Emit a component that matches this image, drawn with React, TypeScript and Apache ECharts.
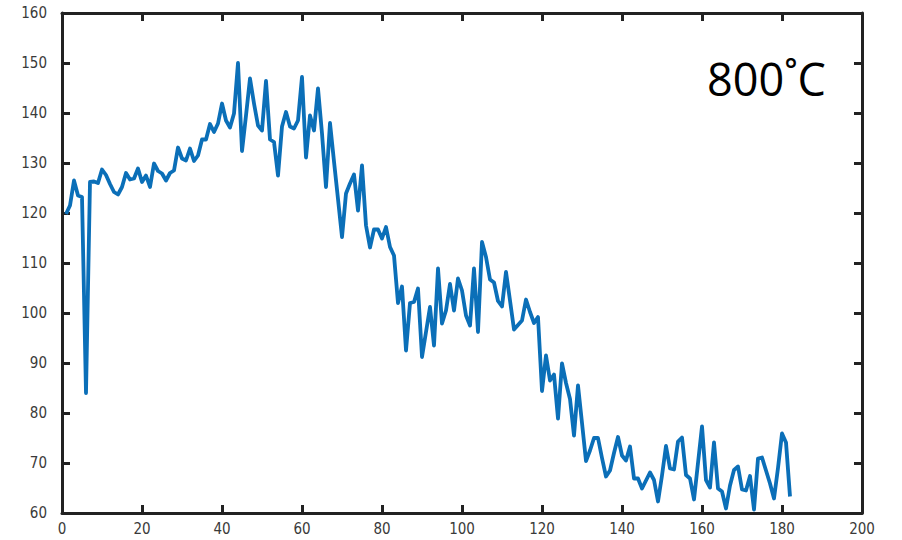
import React, { useEffect, useRef } from "react";
import * as echarts from "echarts";

const xTicks = [0, 20, 40, 60, 80, 100, 120, 140, 160, 180, 200];
const yTicks = [60, 70, 80, 90, 100, 110, 120, 130, 140, 150, 160];

// sample number (1..182) is the position in this list
const values = [
  119.8, 121.5, 126.5, 123.5, 123.2, 84, 126.2, 126.3, 126, 128.7,
  127.6, 125.8, 124.2, 123.7, 125.2, 128, 126.7, 126.9, 128.9, 126.2,
  127.5, 125.2, 129.9, 128.4, 127.9, 126.5, 128, 128.5, 133.1, 130.9,
  130.5, 132.9, 130.4, 131.5, 134.7, 134.7, 137.8, 136.2, 137.9, 141.9,
  138.5, 137.1, 139.9, 150, 132.4, 139.5, 146.9, 141.9, 137.5, 136.5,
  146.4, 134.7, 134.2, 127.5, 137.3, 140.2, 137.3, 136.9, 138.5, 147.2,
  131.1, 139.5, 136.5, 144.9, 135.9, 125.2, 138, 130.3, 122.8, 115.2,
  123.9, 125.9, 127.7, 120.5, 129.5, 117.5, 113.1, 116.7, 116.7, 114.9,
  117.2, 113.2, 111.5, 102, 105.3, 92.5, 102, 102.2, 104.9, 91.2,
  96.2, 101.2, 93.5, 108.9, 97.9, 100.5, 105.8, 100.5, 106.9, 104.5,
  99.5, 97.5, 108.9, 96.2, 114.2, 111.2, 106.7, 106.1, 102.4, 101.3,
  108.2, 102.5, 96.7, 97.6, 98.5, 102.7, 100.2, 98, 99.2, 84.4,
  91.5, 86.5, 87.7, 78.9, 89.9, 86, 82.8, 75.5, 85.5, 78,
  70.4, 72.5, 75, 75, 71, 67.3, 68.5, 72, 75.2, 71.5,
  70.5, 73.3, 66.9, 66.9, 64.9, 66.5, 68.1, 66.6, 62.3, 67.5,
  73.4, 68.9, 68.7, 74.3, 75.1, 67.6, 66.9, 62.7, 70, 77.3,
  66.6, 65.1, 74.1, 64.9, 64.3, 60.9, 65.5, 68.6, 69.3, 64.7,
  64.5, 67.4, 60.7, 70.9, 71.1, 68.5, 65.9, 62.9, 69, 75.9,
  74.1, 63.3,
];

const label = "800˚C";

export default function App() {
  const ref = useRef<HTMLDivElement>(null);
  useEffect(() => {
    if (!ref.current) return;
    const chart = echarts.init(ref.current, undefined, { renderer: "svg" });
    const axisColor = "#222222";
    const labelStyle = {
      color: "#3a3a3a",
      fontFamily: "'Liberation Sans Narrow', 'DejaVu Sans Condensed', 'Liberation Sans', sans-serif",
      fontSize: 15,
    };
    const pts = values.map((v, i) => [i + 1, v]);
    const line = { show: true, onZero: false, lineStyle: { color: axisColor, width: 3 } };
    const tick = { show: true, inside: true, length: 8, lineStyle: { color: axisColor, width: 3 } };
    chart.setOption({
      animation: false,
      backgroundColor: "#ffffff",
      grid: { left: 62, right: 40, top: 13, bottom: 27, containLabel: false },
      xAxis: [
        {
          type: "value",
          min: xTicks[0],
          max: xTicks[xTicks.length - 1],
          interval: 20,
          position: "bottom",
          axisLine: line,
          axisTick: tick,
          axisLabel: { ...labelStyle, margin: 8 },
          splitLine: { show: false },
        },
        {
          type: "value",
          min: xTicks[0],
          max: xTicks[xTicks.length - 1],
          interval: 20,
          position: "top",
          axisLine: line,
          axisTick: tick,
          axisLabel: { show: false },
          splitLine: { show: false },
        },
      ],
      yAxis: [
        {
          type: "value",
          min: yTicks[0],
          max: yTicks[yTicks.length - 1],
          interval: 10,
          position: "left",
          axisLine: line,
          axisTick: tick,
          axisLabel: { ...labelStyle, margin: 15 },
          splitLine: { show: false },
        },
        {
          type: "value",
          min: yTicks[0],
          max: yTicks[yTicks.length - 1],
          interval: 10,
          position: "right",
          axisLine: line,
          axisTick: tick,
          axisLabel: { show: false },
          splitLine: { show: false },
        },
      ],
      series: [
        {
          type: "line",
          data: pts,
          xAxisIndex: 0,
          yAxisIndex: 0,
          showSymbol: false,
          symbol: "none",
          lineStyle: { color: "#0b6fb8", width: 3.8, join: "round" },
          z: 1,
        },
      ],
      graphic: [
        {
          type: "text",
          left: 707,
          top: 56,
          style: {
            text: label,
            fontFamily: "Open Sans",
            fontSize: 45,
            fill: "#000000",
          },
        },
      ],
    });
    return () => chart.dispose();
  }, []);
  return <div ref={ref} style={{ width: 902, height: 540, position: "absolute", left: 0, top: 0 }} />;
}
